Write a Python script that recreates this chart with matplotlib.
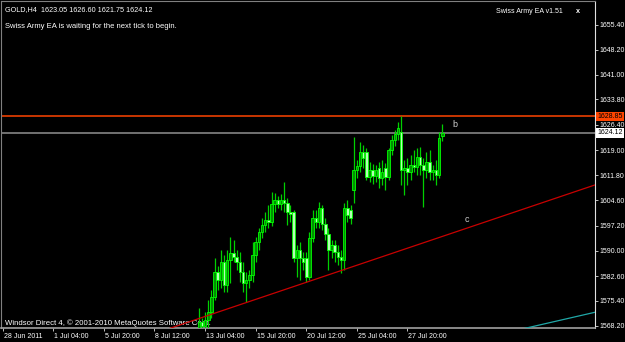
import numpy as np
import matplotlib
matplotlib.use("Agg")
import matplotlib.pyplot as plt
import matplotlib.transforms as mtransforms

plt.rcParams['font.family'] = ['Liberation Sans', 'DejaVu Sans']

# GOLD H4 bars (bar index counted from 28 Jun 2011 00:00)
bar_idx = np.arange(62, 140)
opens = [1567.5, 1569.3, 1568.1, 1569.9, 1572.2, 1576.5, 1583.8, 1581.5, 1586.7, 1580.0,
         1587.3, 1589.3, 1588.1, 1586.7, 1583.8, 1580.6, 1581.5, 1582.9, 1588.7, 1592.5,
         1595.4, 1597.4, 1598.8, 1598.3, 1603.5, 1604.6, 1603.5, 1604.6, 1603.8, 1601.2,
         1601.2, 1587.8, 1590.1, 1587.8, 1587.8, 1582.3, 1593.6, 1599.4, 1598.3, 1602.3,
         1597.7, 1594.8, 1590.1, 1591.6, 1589.6, 1588.1, 1587.3, 1602.3, 1601.7, 1607.5,
         1613.3, 1614.5, 1618.6, 1618.6, 1611.3, 1613.3, 1611.6, 1613.9, 1611.0, 1613.9,
         1611.3, 1619.1, 1622.0, 1623.8, 1624.4, 1613.3, 1613.9, 1612.8, 1614.8, 1614.2,
         1617.1, 1614.8, 1613.3, 1615.7, 1612.8, 1613.3, 1611.9, 1623.05]
highs = [1573.3, 1570.4, 1572.2, 1575.7, 1578.6, 1587.8, 1585.5, 1590.1, 1588.7, 1590.1,
         1593.9, 1593.0, 1590.1, 1589.6, 1586.7, 1583.8, 1584.4, 1592.5, 1593.9, 1596.5,
         1599.4, 1601.2, 1603.2, 1607.0, 1606.7, 1605.8, 1606.4, 1609.9, 1605.2, 1603.2,
         1601.7, 1591.6, 1592.5, 1589.6, 1589.6, 1595.4, 1601.7, 1601.7, 1604.1, 1603.2,
         1599.4, 1596.5, 1593.0, 1593.0, 1591.6, 1590.1, 1603.8, 1604.6, 1603.2, 1622.9,
         1616.2, 1621.5, 1620.6, 1619.7, 1615.7, 1615.1, 1614.8, 1615.7, 1616.2, 1615.4,
         1619.7, 1623.5, 1624.9, 1627.3, 1628.85, 1616.2, 1616.8, 1617.7, 1619.1, 1619.7,
         1620.0, 1616.8, 1618.6, 1619.1, 1614.8, 1616.2, 1624.4, 1626.60]
lows = [1565.2, 1566.4, 1565.8, 1567.0, 1570.4, 1575.7, 1578.6, 1579.1, 1578.0, 1578.0,
        1580.6, 1586.7, 1584.4, 1580.9, 1578.0, 1575.1, 1579.1, 1580.9, 1586.7, 1590.1,
        1593.6, 1595.4, 1596.5, 1597.1, 1601.2, 1602.3, 1601.7, 1601.2, 1597.4, 1598.3,
        1586.7, 1582.3, 1581.5, 1584.4, 1580.9, 1581.5, 1592.5, 1596.5, 1596.5, 1595.9,
        1593.0, 1584.4, 1587.8, 1586.7, 1585.8, 1583.5, 1584.4, 1598.3, 1597.7, 1603.8,
        1611.0, 1612.8, 1613.9, 1610.4, 1609.9, 1609.3, 1609.9, 1608.1, 1609.0, 1607.5,
        1610.4, 1617.7, 1620.3, 1622.0, 1609.0, 1606.1, 1609.0, 1610.4, 1612.8, 1611.9,
        1611.9, 1602.6, 1611.0, 1610.4, 1610.4, 1609.0, 1611.0, 1621.75]
closes = [1569.3, 1568.1, 1569.9, 1572.2, 1576.5, 1583.8, 1581.5, 1586.7, 1580.0, 1587.3,
          1589.3, 1588.1, 1586.7, 1583.8, 1580.6, 1581.5, 1582.9, 1588.7, 1592.5, 1595.4,
          1597.4, 1598.8, 1598.3, 1603.5, 1604.6, 1603.5, 1604.6, 1603.8, 1601.2, 1600.6,
          1587.8, 1590.1, 1587.8, 1586.7, 1582.3, 1593.6, 1599.4, 1598.3, 1602.3, 1597.7,
          1594.8, 1590.1, 1591.6, 1589.6, 1588.1, 1587.3, 1602.3, 1600.3, 1599.4, 1613.3,
          1614.5, 1618.6, 1616.8, 1611.3, 1613.3, 1611.6, 1613.3, 1611.0, 1612.8, 1611.3,
          1619.1, 1622.0, 1623.8, 1625.5, 1613.3, 1613.9, 1612.8, 1614.8, 1614.2, 1617.1,
          1614.8, 1613.3, 1615.7, 1612.8, 1613.3, 1611.9, 1622.6, 1624.12]

time_tick_idx = [0, 16, 32, 48, 64, 80, 96, 112, 128]
time_tick_labels = ["28 Jun 2011", "1 Jul 04:00", "5 Jul 20:00", "8 Jul 12:00", "13 Jul 04:00",
                    "15 Jul 20:00", "20 Jul 12:00", "25 Jul 04:00", "27 Jul 20:00"]
price_ticks = [1568.20, 1575.40, 1582.60, 1590.00, 1597.20, 1604.60, 1611.80,
               1619.00, 1626.40, 1633.80, 1641.00, 1648.20, 1655.40]

level_price = 1628.85
bid_price = 1624.12
red_trend_x = [60, 180]
red_trend_y = [1569.65, 1606.75]
cyan_trend_x = [165.2, 187.3]
cyan_trend_y = [1567.45, 1572.1]
label_b = (143.0, 1626.4)
label_c = (146.8, 1599.1)

fig = plt.figure(figsize=(6.25, 3.42), dpi=100, facecolor="black")
ax = fig.add_axes([1 / 625, 1 - 328.3 / 342, 594 / 625, 327.3 / 342])
ax.set_facecolor("black")
ax.set_xlim(-0.54, 187.3)
ax.set_ylim(1567.45, 1662.32)

o = np.array(opens)
h = np.array(highs)
l = np.array(lows)
c = np.array(closes)
up = c >= o

ax.vlines(bar_idx, l, h, color="#00d000", lw=0.9, zorder=3)
ax.bar(bar_idx[up], (c - o)[up], bottom=o[up], width=0.8, color="#009000",
       edgecolor="#00ff00", linewidth=0.6, zorder=4)
ax.bar(bar_idx[~up], (o - c)[~up], bottom=c[~up], width=0.8, color="#b4ffb4",
       edgecolor="#00ff00", linewidth=0.6, zorder=4)

ax.axhline(level_price, color="#ff4500", lw=1.1, zorder=2)
ax.axhline(bid_price, color="#7a7a7a", lw=1.3, zorder=2)
ax.axline((red_trend_x[0], red_trend_y[0]), (red_trend_x[1], red_trend_y[1]),
          color="#c80000", lw=0.9, zorder=5)
ax.axline((cyan_trend_x[0], cyan_trend_y[0]), (cyan_trend_x[1], cyan_trend_y[1]),
          color="#20a8a8", lw=0.9, zorder=5)

ax.text(*label_b, "b", color="#d0d0d0", fontsize=6.5, ha="center", va="center")
ax.text(*label_c, "c", color="#d0d0d0", fontsize=6.5, ha="center", va="center")

# axes look
for side in ["left", "top"]:
    ax.spines[side].set_color("#808080")
    ax.spines[side].set_linewidth(0.8)
ax.spines["bottom"].set_color("#a0a0a0")
ax.spines["bottom"].set_linewidth(1.2)
ax.spines["right"].set_color("#e0e0e0")
ax.yaxis.tick_right()
ax.set_yticks(price_ticks)
ax.set_yticklabels(["%.2f" % v for v in price_ticks])
ax.set_xticks(time_tick_idx)
ax.set_xticklabels(time_tick_labels)
ax.tick_params(axis="y", colors="#c0c0c0", labelcolor="white", labelsize=5.0,
               length=2.5, width=0.7, pad=1)
ax.tick_params(axis="x", colors="#c0c0c0", labelcolor="white", labelsize=5.0,
               length=2.5, width=0.7, pad=1)
for lab in ax.get_xticklabels():
    lab.set_ha("left")
    lab.set_transform(lab.get_transform() + mtransforms.ScaledTranslation(1 / 100, 0, fig.dpi_scale_trans))

# price markers on the right scale
trans = mtransforms.blended_transform_factory(ax.transAxes, ax.transData)
ax.text(1.004, level_price, "%.2f" % level_price, transform=trans, ha="left", va="center",
        fontsize=5.0, color="black", clip_on=False, zorder=10,
        bbox=dict(boxstyle="square,pad=0.2", fc="#ff4500", ec="none"))
ax.text(1.004, bid_price, "%.2f" % bid_price, transform=trans, ha="left", va="center",
        fontsize=5.0, color="black", clip_on=False, zorder=10,
        bbox=dict(boxstyle="square,pad=0.2", fc="white", ec="none"))

# chart captions
ax.text(4 / 594, 0.975, "GOLD,H4  1623.05 1626.60 1621.75 1624.12", transform=ax.transAxes,
        color="white", fontsize=5.2, ha="left", va="center")
ax.text(4 / 594, 0.923, "Swiss Army EA is waiting for the next tick to begin.", transform=ax.transAxes,
        color="white", fontsize=5.5, ha="left", va="center")
ax.text(562 / 594, 0.969, "Swiss Army EA v1.51", transform=ax.transAxes,
        color="white", fontsize=5.0, ha="right", va="center")
ax.text(577 / 594, 0.969, "x", transform=ax.transAxes, color="white", fontsize=5.2,
        fontweight="bold", ha="center", va="center")
ax.text(4 / 594, 0.017, "Windsor Direct 4, \u00a9 2001-2010 MetaQuotes Software Corp.",
        transform=ax.transAxes, color="white", fontsize=5.6, ha="left", va="center", zorder=1)

fig.savefig("out.png", dpi=100, facecolor="black")
